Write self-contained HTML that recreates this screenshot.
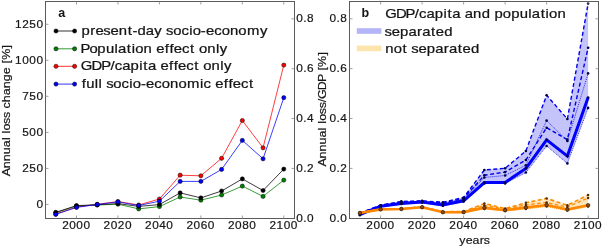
<!DOCTYPE html><html><head><meta charset="utf-8"><style>html,body{margin:0;padding:0;background:#fff;overflow:hidden}svg{display:block;will-change:transform}text{font-family:"Liberation Sans",sans-serif}</style></head><body>
<svg width="602" height="247" viewBox="0 0 602 247">
<rect width="602" height="247" fill="#fff"/>
<polyline points="55.77,212.80 76.50,206.00 97.22,205.00 117.95,204.20 138.69,208.90 159.41,206.60 180.15,197.00 200.88,200.20 221.60,195.00 242.34,186.10 263.06,196.40 283.79,180.10" fill="none" stroke="#008000" stroke-width="0.9" stroke-opacity="0.85"/>
<circle cx="55.77" cy="212.80" r="2.1" fill="#008000" stroke="#000" stroke-width="0.5"/>
<circle cx="76.50" cy="206.00" r="2.1" fill="#008000" stroke="#000" stroke-width="0.5"/>
<circle cx="97.22" cy="205.00" r="2.1" fill="#008000" stroke="#000" stroke-width="0.5"/>
<circle cx="117.95" cy="204.20" r="2.1" fill="#008000" stroke="#000" stroke-width="0.5"/>
<circle cx="138.69" cy="208.90" r="2.1" fill="#008000" stroke="#000" stroke-width="0.5"/>
<circle cx="159.41" cy="206.60" r="2.1" fill="#008000" stroke="#000" stroke-width="0.5"/>
<circle cx="180.15" cy="197.00" r="2.1" fill="#008000" stroke="#000" stroke-width="0.5"/>
<circle cx="200.88" cy="200.20" r="2.1" fill="#008000" stroke="#000" stroke-width="0.5"/>
<circle cx="221.60" cy="195.00" r="2.1" fill="#008000" stroke="#000" stroke-width="0.5"/>
<circle cx="242.34" cy="186.10" r="2.1" fill="#008000" stroke="#000" stroke-width="0.5"/>
<circle cx="263.06" cy="196.40" r="2.1" fill="#008000" stroke="#000" stroke-width="0.5"/>
<circle cx="283.79" cy="180.10" r="2.1" fill="#008000" stroke="#000" stroke-width="0.5"/>
<polyline points="55.77,214.00 76.50,207.00 97.22,204.30 117.95,201.50 138.69,205.00 159.41,199.00 180.15,175.20 200.88,175.80 221.60,158.30 242.34,120.50 263.06,147.80 283.79,65.10" fill="none" stroke="#ff0000" stroke-width="0.9" stroke-opacity="0.85"/>
<circle cx="55.77" cy="214.00" r="2.1" fill="#ff0000" stroke="#000" stroke-width="0.5"/>
<circle cx="76.50" cy="207.00" r="2.1" fill="#ff0000" stroke="#000" stroke-width="0.5"/>
<circle cx="97.22" cy="204.30" r="2.1" fill="#ff0000" stroke="#000" stroke-width="0.5"/>
<circle cx="117.95" cy="201.50" r="2.1" fill="#ff0000" stroke="#000" stroke-width="0.5"/>
<circle cx="138.69" cy="205.00" r="2.1" fill="#ff0000" stroke="#000" stroke-width="0.5"/>
<circle cx="159.41" cy="199.00" r="2.1" fill="#ff0000" stroke="#000" stroke-width="0.5"/>
<circle cx="180.15" cy="175.20" r="2.1" fill="#ff0000" stroke="#000" stroke-width="0.5"/>
<circle cx="200.88" cy="175.80" r="2.1" fill="#ff0000" stroke="#000" stroke-width="0.5"/>
<circle cx="221.60" cy="158.30" r="2.1" fill="#ff0000" stroke="#000" stroke-width="0.5"/>
<circle cx="242.34" cy="120.50" r="2.1" fill="#ff0000" stroke="#000" stroke-width="0.5"/>
<circle cx="263.06" cy="147.80" r="2.1" fill="#ff0000" stroke="#000" stroke-width="0.5"/>
<circle cx="283.79" cy="65.10" r="2.1" fill="#ff0000" stroke="#000" stroke-width="0.5"/>
<polyline points="55.77,212.30 76.50,205.60 97.22,204.80 117.95,203.60 138.69,206.40 159.41,204.60 180.15,192.90 200.88,197.90 221.60,191.00 242.34,178.90 263.06,190.50 283.79,169.10" fill="none" stroke="#000000" stroke-width="0.9" stroke-opacity="0.85"/>
<circle cx="55.77" cy="212.30" r="2.1" fill="#000000" stroke="#000" stroke-width="0.5"/>
<circle cx="76.50" cy="205.60" r="2.1" fill="#000000" stroke="#000" stroke-width="0.5"/>
<circle cx="97.22" cy="204.80" r="2.1" fill="#000000" stroke="#000" stroke-width="0.5"/>
<circle cx="117.95" cy="203.60" r="2.1" fill="#000000" stroke="#000" stroke-width="0.5"/>
<circle cx="138.69" cy="206.40" r="2.1" fill="#000000" stroke="#000" stroke-width="0.5"/>
<circle cx="159.41" cy="204.60" r="2.1" fill="#000000" stroke="#000" stroke-width="0.5"/>
<circle cx="180.15" cy="192.90" r="2.1" fill="#000000" stroke="#000" stroke-width="0.5"/>
<circle cx="200.88" cy="197.90" r="2.1" fill="#000000" stroke="#000" stroke-width="0.5"/>
<circle cx="221.60" cy="191.00" r="2.1" fill="#000000" stroke="#000" stroke-width="0.5"/>
<circle cx="242.34" cy="178.90" r="2.1" fill="#000000" stroke="#000" stroke-width="0.5"/>
<circle cx="263.06" cy="190.50" r="2.1" fill="#000000" stroke="#000" stroke-width="0.5"/>
<circle cx="283.79" cy="169.10" r="2.1" fill="#000000" stroke="#000" stroke-width="0.5"/>
<polyline points="55.77,214.40 76.50,207.40 97.22,204.50 117.95,201.90 138.69,205.50 159.41,201.20 180.15,181.40 200.88,181.40 221.60,169.40 242.34,140.40 263.06,158.80 283.79,97.70" fill="none" stroke="#0000ff" stroke-width="0.9" stroke-opacity="0.85"/>
<circle cx="55.77" cy="214.40" r="2.1" fill="#0000ff" stroke="#000" stroke-width="0.5"/>
<circle cx="76.50" cy="207.40" r="2.1" fill="#0000ff" stroke="#000" stroke-width="0.5"/>
<circle cx="97.22" cy="204.50" r="2.1" fill="#0000ff" stroke="#000" stroke-width="0.5"/>
<circle cx="117.95" cy="201.90" r="2.1" fill="#0000ff" stroke="#000" stroke-width="0.5"/>
<circle cx="138.69" cy="205.50" r="2.1" fill="#0000ff" stroke="#000" stroke-width="0.5"/>
<circle cx="159.41" cy="201.20" r="2.1" fill="#0000ff" stroke="#000" stroke-width="0.5"/>
<circle cx="180.15" cy="181.40" r="2.1" fill="#0000ff" stroke="#000" stroke-width="0.5"/>
<circle cx="200.88" cy="181.40" r="2.1" fill="#0000ff" stroke="#000" stroke-width="0.5"/>
<circle cx="221.60" cy="169.40" r="2.1" fill="#0000ff" stroke="#000" stroke-width="0.5"/>
<circle cx="242.34" cy="140.40" r="2.1" fill="#0000ff" stroke="#000" stroke-width="0.5"/>
<circle cx="263.06" cy="158.80" r="2.1" fill="#0000ff" stroke="#000" stroke-width="0.5"/>
<circle cx="283.79" cy="97.70" r="2.1" fill="#0000ff" stroke="#000" stroke-width="0.5"/>
<polygon points="359.88,213.00 380.62,205.20 401.38,201.40 422.12,200.90 442.88,202.20 463.62,197.50 484.38,170.00 505.12,168.30 525.88,151.00 546.62,95.20 567.38,119.00 588.12,3.60 588.12,107.90 567.38,163.40 546.62,146.00 525.88,172.50 505.12,183.50 484.38,183.50 463.62,201.60 442.88,205.80 422.12,202.60 401.38,204.00 380.62,206.80 359.88,215.20" fill="#c4c4fa" stroke="none"/>
<polygon points="359.88,212.60 380.62,209.00 401.38,208.60 422.12,206.80 442.88,211.70 463.62,211.60 484.38,203.50 505.12,208.50 525.88,202.80 546.62,198.40 567.38,205.20 588.12,195.00 588.12,206.60 567.38,210.60 546.62,206.50 525.88,209.00 505.12,211.00 484.38,209.00 463.62,212.50 442.88,212.60 422.12,207.50 401.38,209.30 380.62,209.70 359.88,213.30" fill="#ffe6bd" stroke="none"/>
<polyline points="359.88,213.00 380.62,205.20 401.38,201.40 422.12,200.90 442.88,202.20 463.62,197.50 484.38,170.00 505.12,168.30 525.88,151.00 546.62,95.20 567.38,119.00 588.12,3.60" fill="none" stroke="#0000ee" stroke-width="1.4" stroke-dasharray="4 2.5"/>
<polyline points="359.88,213.30 380.62,205.50 401.38,202.00 422.12,201.20 442.88,203.00 463.62,198.50 484.38,175.20 505.12,172.10 525.88,160.00 546.62,127.70 567.38,139.60 588.12,47.70" fill="none" stroke="#0000ee" stroke-width="1.4" stroke-dasharray="4 2.5"/>
<polyline points="359.88,213.60 380.62,205.70 401.38,202.40 422.12,201.50 442.88,203.50 463.62,199.00 484.38,177.50 505.12,175.50 525.88,165.20 546.62,120.60 567.38,141.00 588.12,73.40" fill="none" stroke="#0000ee" stroke-width="0.8" stroke-dasharray="1 1"/>
<polyline points="359.88,215.20 380.62,206.80 401.38,204.00 422.12,202.60 442.88,205.80 463.62,201.60 484.38,183.50 505.12,183.50 525.88,172.50 546.62,146.00 567.38,163.40 588.12,107.90" fill="none" stroke="#0000ee" stroke-width="0.8" stroke-dasharray="1 1"/>
<polyline points="359.88,214.60 380.62,206.20 401.38,203.40 422.12,202.00 442.88,205.00 463.62,200.80 484.38,182.50 505.12,182.50 525.88,168.40 546.62,139.80 567.38,156.10 588.12,97.60" fill="none" stroke="#0000ff" stroke-width="3"/>
<circle cx="359.88" cy="213.00" r="1.3" fill="#00004a"/>
<circle cx="380.62" cy="205.20" r="1.3" fill="#00004a"/>
<circle cx="401.38" cy="201.40" r="1.3" fill="#00004a"/>
<circle cx="422.12" cy="200.90" r="1.3" fill="#00004a"/>
<circle cx="442.88" cy="202.20" r="1.3" fill="#00004a"/>
<circle cx="463.62" cy="197.50" r="1.3" fill="#00004a"/>
<circle cx="484.38" cy="170.00" r="1.3" fill="#00004a"/>
<circle cx="505.12" cy="168.30" r="1.3" fill="#00004a"/>
<circle cx="525.88" cy="151.00" r="1.3" fill="#00004a"/>
<circle cx="546.62" cy="95.20" r="1.3" fill="#00004a"/>
<circle cx="567.38" cy="119.00" r="1.3" fill="#00004a"/>
<circle cx="588.12" cy="3.60" r="1.3" fill="#00004a"/>
<circle cx="359.88" cy="213.60" r="1.3" fill="#00004a"/>
<circle cx="380.62" cy="205.70" r="1.3" fill="#00004a"/>
<circle cx="401.38" cy="202.40" r="1.3" fill="#00004a"/>
<circle cx="422.12" cy="201.50" r="1.3" fill="#00004a"/>
<circle cx="442.88" cy="203.50" r="1.3" fill="#00004a"/>
<circle cx="463.62" cy="199.00" r="1.3" fill="#00004a"/>
<circle cx="484.38" cy="177.50" r="1.3" fill="#00004a"/>
<circle cx="505.12" cy="175.50" r="1.3" fill="#00004a"/>
<circle cx="525.88" cy="165.20" r="1.3" fill="#00004a"/>
<circle cx="546.62" cy="120.60" r="1.3" fill="#00004a"/>
<circle cx="567.38" cy="141.00" r="1.3" fill="#00004a"/>
<circle cx="588.12" cy="73.40" r="1.3" fill="#00004a"/>
<circle cx="359.88" cy="213.30" r="1.3" fill="#00004a"/>
<circle cx="380.62" cy="205.50" r="1.3" fill="#00004a"/>
<circle cx="401.38" cy="202.00" r="1.3" fill="#00004a"/>
<circle cx="422.12" cy="201.20" r="1.3" fill="#00004a"/>
<circle cx="442.88" cy="203.00" r="1.3" fill="#00004a"/>
<circle cx="463.62" cy="198.50" r="1.3" fill="#00004a"/>
<circle cx="484.38" cy="175.20" r="1.3" fill="#00004a"/>
<circle cx="505.12" cy="172.10" r="1.3" fill="#00004a"/>
<circle cx="525.88" cy="160.00" r="1.3" fill="#00004a"/>
<circle cx="546.62" cy="127.70" r="1.3" fill="#00004a"/>
<circle cx="567.38" cy="139.60" r="1.3" fill="#00004a"/>
<circle cx="588.12" cy="47.70" r="1.3" fill="#00004a"/>
<circle cx="359.88" cy="214.60" r="1.3" fill="#00004a"/>
<circle cx="380.62" cy="206.20" r="1.3" fill="#00004a"/>
<circle cx="401.38" cy="203.40" r="1.3" fill="#00004a"/>
<circle cx="422.12" cy="202.00" r="1.3" fill="#00004a"/>
<circle cx="442.88" cy="205.00" r="1.3" fill="#00004a"/>
<circle cx="463.62" cy="200.80" r="1.3" fill="#00004a"/>
<circle cx="484.38" cy="182.50" r="1.3" fill="#00004a"/>
<circle cx="505.12" cy="182.50" r="1.3" fill="#00004a"/>
<circle cx="525.88" cy="168.40" r="1.3" fill="#00004a"/>
<circle cx="546.62" cy="139.80" r="1.3" fill="#00004a"/>
<circle cx="567.38" cy="156.10" r="1.3" fill="#00004a"/>
<circle cx="588.12" cy="97.60" r="1.3" fill="#00004a"/>
<circle cx="359.88" cy="215.20" r="1.3" fill="#00004a"/>
<circle cx="380.62" cy="206.80" r="1.3" fill="#00004a"/>
<circle cx="401.38" cy="204.00" r="1.3" fill="#00004a"/>
<circle cx="422.12" cy="202.60" r="1.3" fill="#00004a"/>
<circle cx="442.88" cy="205.80" r="1.3" fill="#00004a"/>
<circle cx="463.62" cy="201.60" r="1.3" fill="#00004a"/>
<circle cx="484.38" cy="183.50" r="1.3" fill="#00004a"/>
<circle cx="505.12" cy="183.50" r="1.3" fill="#00004a"/>
<circle cx="525.88" cy="172.50" r="1.3" fill="#00004a"/>
<circle cx="546.62" cy="146.00" r="1.3" fill="#00004a"/>
<circle cx="567.38" cy="163.40" r="1.3" fill="#00004a"/>
<circle cx="588.12" cy="107.90" r="1.3" fill="#00004a"/>
<polyline points="359.88,212.60 380.62,209.00 401.38,208.60 422.12,206.80 442.88,211.70 463.62,211.60 484.38,203.50 505.12,208.50 525.88,202.80 546.62,198.40 567.38,205.20 588.12,195.00" fill="none" stroke="#ff8c00" stroke-width="1.6" stroke-dasharray="4 2.5"/>
<polyline points="359.88,212.80 380.62,209.20 401.38,208.80 422.12,207.00 442.88,211.90 463.62,211.80 484.38,205.50 505.12,209.20 525.88,205.00 546.62,202.50 567.38,207.00 588.12,198.00" fill="none" stroke="#ff8c00" stroke-width="1.3" stroke-dasharray="3.5 2.5"/>
<polyline points="359.88,213.30 380.62,209.70 401.38,209.30 422.12,207.50 442.88,212.60 463.62,212.50 484.38,209.00 505.12,211.00 525.88,209.00 546.62,206.50 567.38,210.60 588.12,206.60" fill="none" stroke="#ff8c00" stroke-width="1" stroke-dasharray="1 1"/>
<polyline points="359.88,213.00 380.62,209.40 401.38,209.00 422.12,207.20 442.88,212.20 463.62,212.10 484.38,207.70 505.12,210.20 525.88,207.50 546.62,205.00 567.38,209.50 588.12,205.20" fill="none" stroke="#ff8800" stroke-width="2.6"/>
<circle cx="359.88" cy="212.60" r="1.2" fill="#4a2800"/>
<circle cx="380.62" cy="209.00" r="1.2" fill="#4a2800"/>
<circle cx="401.38" cy="208.60" r="1.2" fill="#4a2800"/>
<circle cx="422.12" cy="206.80" r="1.2" fill="#4a2800"/>
<circle cx="442.88" cy="211.70" r="1.2" fill="#4a2800"/>
<circle cx="463.62" cy="211.60" r="1.2" fill="#4a2800"/>
<circle cx="484.38" cy="203.50" r="1.2" fill="#4a2800"/>
<circle cx="505.12" cy="208.50" r="1.2" fill="#4a2800"/>
<circle cx="525.88" cy="202.80" r="1.2" fill="#4a2800"/>
<circle cx="546.62" cy="198.40" r="1.2" fill="#4a2800"/>
<circle cx="567.38" cy="205.20" r="1.2" fill="#4a2800"/>
<circle cx="588.12" cy="195.00" r="1.2" fill="#4a2800"/>
<circle cx="359.88" cy="212.80" r="1.2" fill="#4a2800"/>
<circle cx="380.62" cy="209.20" r="1.2" fill="#4a2800"/>
<circle cx="401.38" cy="208.80" r="1.2" fill="#4a2800"/>
<circle cx="422.12" cy="207.00" r="1.2" fill="#4a2800"/>
<circle cx="442.88" cy="211.90" r="1.2" fill="#4a2800"/>
<circle cx="463.62" cy="211.80" r="1.2" fill="#4a2800"/>
<circle cx="484.38" cy="205.50" r="1.2" fill="#4a2800"/>
<circle cx="505.12" cy="209.20" r="1.2" fill="#4a2800"/>
<circle cx="525.88" cy="205.00" r="1.2" fill="#4a2800"/>
<circle cx="546.62" cy="202.50" r="1.2" fill="#4a2800"/>
<circle cx="567.38" cy="207.00" r="1.2" fill="#4a2800"/>
<circle cx="588.12" cy="198.00" r="1.2" fill="#4a2800"/>
<circle cx="359.88" cy="213.30" r="1.2" fill="#4a2800"/>
<circle cx="380.62" cy="209.70" r="1.2" fill="#4a2800"/>
<circle cx="401.38" cy="209.30" r="1.2" fill="#4a2800"/>
<circle cx="422.12" cy="207.50" r="1.2" fill="#4a2800"/>
<circle cx="442.88" cy="212.60" r="1.2" fill="#4a2800"/>
<circle cx="463.62" cy="212.50" r="1.2" fill="#4a2800"/>
<circle cx="484.38" cy="209.00" r="1.2" fill="#4a2800"/>
<circle cx="505.12" cy="211.00" r="1.2" fill="#4a2800"/>
<circle cx="525.88" cy="209.00" r="1.2" fill="#4a2800"/>
<circle cx="546.62" cy="206.50" r="1.2" fill="#4a2800"/>
<circle cx="567.38" cy="210.60" r="1.2" fill="#4a2800"/>
<circle cx="588.12" cy="206.60" r="1.2" fill="#4a2800"/>
<circle cx="359.88" cy="213.00" r="1.8" fill="#8a4a10" stroke="#2a1800" stroke-width="0.6"/>
<circle cx="380.62" cy="209.40" r="1.8" fill="#8a4a10" stroke="#2a1800" stroke-width="0.6"/>
<circle cx="401.38" cy="209.00" r="1.8" fill="#8a4a10" stroke="#2a1800" stroke-width="0.6"/>
<circle cx="422.12" cy="207.20" r="1.8" fill="#8a4a10" stroke="#2a1800" stroke-width="0.6"/>
<circle cx="442.88" cy="212.20" r="1.8" fill="#8a4a10" stroke="#2a1800" stroke-width="0.6"/>
<circle cx="463.62" cy="212.10" r="1.8" fill="#8a4a10" stroke="#2a1800" stroke-width="0.6"/>
<circle cx="484.38" cy="207.70" r="1.8" fill="#8a4a10" stroke="#2a1800" stroke-width="0.6"/>
<circle cx="505.12" cy="210.20" r="1.8" fill="#8a4a10" stroke="#2a1800" stroke-width="0.6"/>
<circle cx="525.88" cy="207.50" r="1.8" fill="#8a4a10" stroke="#2a1800" stroke-width="0.6"/>
<circle cx="546.62" cy="205.00" r="1.8" fill="#8a4a10" stroke="#2a1800" stroke-width="0.6"/>
<circle cx="567.38" cy="209.50" r="1.8" fill="#8a4a10" stroke="#2a1800" stroke-width="0.6"/>
<circle cx="588.12" cy="205.20" r="1.8" fill="#8a4a10" stroke="#2a1800" stroke-width="0.6"/>
<rect x="45.5" y="1.5" width="249.0" height="217.0" fill="none" stroke="#5a5a5a" stroke-width="1"/>
<rect x="349.5" y="1.5" width="249.0" height="217.0" fill="none" stroke="#5a5a5a" stroke-width="1"/>
<line x1="76.5" y1="218.5" x2="76.5" y2="215.5" stroke="#888" stroke-width="0.8"/>
<line x1="76.5" y1="1.5" x2="76.5" y2="4.5" stroke="#888" stroke-width="0.8"/>
<text transform="translate(76.09,229.40) scale(1.0300,1)" x="-13.55 -6.65 0.25 7.15" y="0" font-size="11.5" fill="#151515" stroke="#151515" stroke-width="0.2" style="white-space:pre">2000</text>
<line x1="117.95" y1="218.5" x2="117.95" y2="215.5" stroke="#888" stroke-width="0.8"/>
<line x1="117.95" y1="1.5" x2="117.95" y2="4.5" stroke="#888" stroke-width="0.8"/>
<text transform="translate(117.55,229.40) scale(1.0300,1)" x="-13.55 -6.65 0.25 7.15" y="0" font-size="11.5" fill="#151515" stroke="#151515" stroke-width="0.2" style="white-space:pre">2020</text>
<line x1="159.41" y1="218.5" x2="159.41" y2="215.5" stroke="#888" stroke-width="0.8"/>
<line x1="159.41" y1="1.5" x2="159.41" y2="4.5" stroke="#888" stroke-width="0.8"/>
<text transform="translate(159.01,229.40) scale(1.0300,1)" x="-13.55 -6.65 0.25 7.15" y="0" font-size="11.5" fill="#151515" stroke="#151515" stroke-width="0.2" style="white-space:pre">2040</text>
<line x1="200.88" y1="218.5" x2="200.88" y2="215.5" stroke="#888" stroke-width="0.8"/>
<line x1="200.88" y1="1.5" x2="200.88" y2="4.5" stroke="#888" stroke-width="0.8"/>
<text transform="translate(200.47,229.40) scale(1.0300,1)" x="-13.55 -6.65 0.25 7.15" y="0" font-size="11.5" fill="#151515" stroke="#151515" stroke-width="0.2" style="white-space:pre">2060</text>
<line x1="242.34" y1="218.5" x2="242.34" y2="215.5" stroke="#888" stroke-width="0.8"/>
<line x1="242.34" y1="1.5" x2="242.34" y2="4.5" stroke="#888" stroke-width="0.8"/>
<text transform="translate(241.94,229.40) scale(1.0300,1)" x="-13.55 -6.65 0.25 7.15" y="0" font-size="11.5" fill="#151515" stroke="#151515" stroke-width="0.2" style="white-space:pre">2080</text>
<line x1="283.79" y1="218.5" x2="283.79" y2="215.5" stroke="#888" stroke-width="0.8"/>
<line x1="283.79" y1="1.5" x2="283.79" y2="4.5" stroke="#888" stroke-width="0.8"/>
<text transform="translate(283.39,229.40) scale(1.0300,1)" x="-13.55 -6.65 0.25 7.15" y="0" font-size="11.5" fill="#151515" stroke="#151515" stroke-width="0.2" style="white-space:pre">2100</text>
<line x1="380.62" y1="218.5" x2="380.62" y2="215.5" stroke="#888" stroke-width="0.8"/>
<line x1="380.62" y1="1.5" x2="380.62" y2="4.5" stroke="#888" stroke-width="0.8"/>
<text transform="translate(380.23,229.40) scale(1.0300,1)" x="-13.55 -6.65 0.25 7.15" y="0" font-size="11.5" fill="#151515" stroke="#151515" stroke-width="0.2" style="white-space:pre">2000</text>
<line x1="422.12" y1="218.5" x2="422.12" y2="215.5" stroke="#888" stroke-width="0.8"/>
<line x1="422.12" y1="1.5" x2="422.12" y2="4.5" stroke="#888" stroke-width="0.8"/>
<text transform="translate(421.73,229.40) scale(1.0300,1)" x="-13.55 -6.65 0.25 7.15" y="0" font-size="11.5" fill="#151515" stroke="#151515" stroke-width="0.2" style="white-space:pre">2020</text>
<line x1="463.62" y1="218.5" x2="463.62" y2="215.5" stroke="#888" stroke-width="0.8"/>
<line x1="463.62" y1="1.5" x2="463.62" y2="4.5" stroke="#888" stroke-width="0.8"/>
<text transform="translate(463.23,229.40) scale(1.0300,1)" x="-13.55 -6.65 0.25 7.15" y="0" font-size="11.5" fill="#151515" stroke="#151515" stroke-width="0.2" style="white-space:pre">2040</text>
<line x1="505.12" y1="218.5" x2="505.12" y2="215.5" stroke="#888" stroke-width="0.8"/>
<line x1="505.12" y1="1.5" x2="505.12" y2="4.5" stroke="#888" stroke-width="0.8"/>
<text transform="translate(504.73,229.40) scale(1.0300,1)" x="-13.55 -6.65 0.25 7.15" y="0" font-size="11.5" fill="#151515" stroke="#151515" stroke-width="0.2" style="white-space:pre">2060</text>
<line x1="546.62" y1="218.5" x2="546.62" y2="215.5" stroke="#888" stroke-width="0.8"/>
<line x1="546.62" y1="1.5" x2="546.62" y2="4.5" stroke="#888" stroke-width="0.8"/>
<text transform="translate(546.23,229.40) scale(1.0300,1)" x="-13.55 -6.65 0.25 7.15" y="0" font-size="11.5" fill="#151515" stroke="#151515" stroke-width="0.2" style="white-space:pre">2080</text>
<line x1="588.12" y1="218.5" x2="588.12" y2="215.5" stroke="#888" stroke-width="0.8"/>
<line x1="588.12" y1="1.5" x2="588.12" y2="4.5" stroke="#888" stroke-width="0.8"/>
<text transform="translate(587.73,229.40) scale(1.0300,1)" x="-13.55 -6.65 0.25 7.15" y="0" font-size="11.5" fill="#151515" stroke="#151515" stroke-width="0.2" style="white-space:pre">2100</text>
<line x1="45.5" y1="204.4" x2="48.5" y2="204.4" stroke="#888" stroke-width="0.8"/>
<text transform="translate(43.25,207.60) scale(1.0300,1)" x="-6.65" y="0" font-size="11.5" fill="#151515" stroke="#151515" stroke-width="0.2" style="white-space:pre">0</text>
<line x1="45.5" y1="168.4" x2="48.5" y2="168.4" stroke="#888" stroke-width="0.8"/>
<text transform="translate(43.25,171.58) scale(1.0300,1)" x="-20.45 -13.55 -6.65" y="0" font-size="11.5" fill="#151515" stroke="#151515" stroke-width="0.2" style="white-space:pre">250</text>
<line x1="45.5" y1="132.4" x2="48.5" y2="132.4" stroke="#888" stroke-width="0.8"/>
<text transform="translate(43.25,135.56) scale(1.0300,1)" x="-20.45 -13.55 -6.65" y="0" font-size="11.5" fill="#151515" stroke="#151515" stroke-width="0.2" style="white-space:pre">500</text>
<line x1="45.5" y1="96.3" x2="48.5" y2="96.3" stroke="#888" stroke-width="0.8"/>
<text transform="translate(43.25,99.54) scale(1.0300,1)" x="-20.45 -13.55 -6.65" y="0" font-size="11.5" fill="#151515" stroke="#151515" stroke-width="0.2" style="white-space:pre">750</text>
<line x1="45.5" y1="60.3" x2="48.5" y2="60.3" stroke="#888" stroke-width="0.8"/>
<text transform="translate(43.25,63.52) scale(1.0300,1)" x="-27.35 -20.45 -13.55 -6.65" y="0" font-size="11.5" fill="#151515" stroke="#151515" stroke-width="0.2" style="white-space:pre">1000</text>
<line x1="45.5" y1="24.3" x2="48.5" y2="24.3" stroke="#888" stroke-width="0.8"/>
<text transform="translate(43.25,27.50) scale(1.0300,1)" x="-27.35 -20.45 -13.55 -6.65" y="0" font-size="11.5" fill="#151515" stroke="#151515" stroke-width="0.2" style="white-space:pre">1250</text>
<text transform="translate(296.00,221.50) scale(1.0300,1)" x="0.25 7.03 10.60" y="0" font-size="11.5" fill="#151515" stroke="#151515" stroke-width="0.2" style="white-space:pre">0.0</text>
<text transform="translate(347.00,221.50) scale(1.0300,1)" x="-16.99 -10.22 -6.65" y="0" font-size="11.5" fill="#151515" stroke="#151515" stroke-width="0.2" style="white-space:pre">0.0</text>
<line x1="294.5" y1="168.4" x2="291.5" y2="168.4" stroke="#888" stroke-width="0.8"/>
<line x1="349.5" y1="168.4" x2="352.5" y2="168.4" stroke="#888" stroke-width="0.8"/>
<line x1="598.5" y1="168.4" x2="595.5" y2="168.4" stroke="#888" stroke-width="0.8"/>
<text transform="translate(296.00,171.62) scale(1.0300,1)" x="0.25 7.03 10.60" y="0" font-size="11.5" fill="#151515" stroke="#151515" stroke-width="0.2" style="white-space:pre">0.2</text>
<text transform="translate(347.00,171.62) scale(1.0300,1)" x="-16.99 -10.22 -6.65" y="0" font-size="11.5" fill="#151515" stroke="#151515" stroke-width="0.2" style="white-space:pre">0.2</text>
<line x1="294.5" y1="118.5" x2="291.5" y2="118.5" stroke="#888" stroke-width="0.8"/>
<line x1="349.5" y1="118.5" x2="352.5" y2="118.5" stroke="#888" stroke-width="0.8"/>
<line x1="598.5" y1="118.5" x2="595.5" y2="118.5" stroke="#888" stroke-width="0.8"/>
<text transform="translate(296.00,121.74) scale(1.0300,1)" x="0.25 7.03 10.60" y="0" font-size="11.5" fill="#151515" stroke="#151515" stroke-width="0.2" style="white-space:pre">0.4</text>
<text transform="translate(347.00,121.74) scale(1.0300,1)" x="-16.99 -10.22 -6.65" y="0" font-size="11.5" fill="#151515" stroke="#151515" stroke-width="0.2" style="white-space:pre">0.4</text>
<line x1="294.5" y1="68.7" x2="291.5" y2="68.7" stroke="#888" stroke-width="0.8"/>
<line x1="349.5" y1="68.7" x2="352.5" y2="68.7" stroke="#888" stroke-width="0.8"/>
<line x1="598.5" y1="68.7" x2="595.5" y2="68.7" stroke="#888" stroke-width="0.8"/>
<text transform="translate(296.00,71.86) scale(1.0300,1)" x="0.25 7.03 10.60" y="0" font-size="11.5" fill="#151515" stroke="#151515" stroke-width="0.2" style="white-space:pre">0.6</text>
<text transform="translate(347.00,71.86) scale(1.0300,1)" x="-16.99 -10.22 -6.65" y="0" font-size="11.5" fill="#151515" stroke="#151515" stroke-width="0.2" style="white-space:pre">0.6</text>
<line x1="294.5" y1="18.8" x2="291.5" y2="18.8" stroke="#888" stroke-width="0.8"/>
<line x1="349.5" y1="18.8" x2="352.5" y2="18.8" stroke="#888" stroke-width="0.8"/>
<line x1="598.5" y1="18.8" x2="595.5" y2="18.8" stroke="#888" stroke-width="0.8"/>
<text transform="translate(296.00,21.98) scale(1.0300,1)" x="0.25 7.03 10.60" y="0" font-size="11.5" fill="#151515" stroke="#151515" stroke-width="0.2" style="white-space:pre">0.8</text>
<text transform="translate(347.00,21.98) scale(1.0300,1)" x="-16.99 -10.22 -6.65" y="0" font-size="11.5" fill="#151515" stroke="#151515" stroke-width="0.2" style="white-space:pre">0.8</text>
<text transform="translate(10.30,176.00) rotate(-90) scale(1.0800,1)" x="-0.30 7.15 13.71 20.26 26.71 33.24 36.00 39.40 42.08 48.26 53.65 59.26 62.47 68.27 74.71 81.16 87.72 94.19 100.61 104.27 107.69 118.14" y="0" font-size="11.5" fill="#151515" stroke="#151515" stroke-width="0.2" style="white-space:pre">Annual loss change [%]</text>
<text transform="translate(325.60,166.30) rotate(-90) scale(1.0800,1)" x="-0.30 7.15 13.71 20.26 26.71 33.24 36.00 39.40 42.08 48.26 53.65 59.36 62.23 70.54 77.96 84.96 88.62 92.04 102.48" y="0" font-size="11.5" fill="#151515" stroke="#151515" stroke-width="0.2" style="white-space:pre">Annual loss/GDP [%]</text>
<text transform="translate(459.10,243.60) scale(1.0800,1)" x="0.19 6.11 12.46 19.03 22.89" y="0" font-size="11.5" fill="#151515" stroke="#151515" stroke-width="0.2" style="white-space:pre">years</text>
<text x="58.3" y="16.9" font-size="12.5" font-weight="bold" fill="#151515">a</text>
<line x1="56" y1="31.0" x2="74.6" y2="31.0" stroke="#000000" stroke-width="0.8"/>
<circle cx="56" cy="31.0" r="2.1" fill="#000000" stroke="#000" stroke-width="0.5"/>
<circle cx="74.6" cy="31.0" r="2.1" fill="#000000" stroke="#000" stroke-width="0.5"/>
<text transform="translate(81.40,35.10) scale(1.1100,1)" x="0.12 7.94 12.66 19.65 26.15 33.72 41.79 45.98 50.51 58.07 65.73 72.73 76.32 82.80 90.21 97.08 100.23 107.62 112.25 119.68 126.34 133.88 141.42 149.17 160.88" y="0" font-size="13.4" fill="#151515" stroke="#151515" stroke-width="0.25" style="white-space:pre">present-day socio-economy</text>
<line x1="56" y1="48.8" x2="74.6" y2="48.8" stroke="#008000" stroke-width="0.8"/>
<circle cx="56" cy="48.8" r="2.1" fill="#008000" stroke="#000" stroke-width="0.5"/>
<circle cx="74.6" cy="48.8" r="2.1" fill="#008000" stroke="#000" stroke-width="0.5"/>
<text transform="translate(81.40,52.80) scale(1.1100,1)" x="-0.82 7.28 14.40 22.08 29.83 32.99 40.93 45.36 48.51 56.05 63.68 67.46 75.18 79.45 83.25 90.68 97.87 102.17 105.94 113.48 121.23 124.64" y="0" font-size="13.4" fill="#151515" stroke="#151515" stroke-width="0.25" style="white-space:pre">Population effect only</text>
<line x1="56" y1="66.3" x2="74.6" y2="66.3" stroke="#ff0000" stroke-width="0.8"/>
<circle cx="56" cy="66.3" r="2.1" fill="#ff0000" stroke="#000" stroke-width="0.5"/>
<circle cx="74.6" cy="66.3" r="2.1" fill="#ff0000" stroke="#000" stroke-width="0.5"/>
<text transform="translate(81.40,70.45) scale(1.1100,1)" x="-0.52 9.20 17.89 26.18 30.06 36.73 44.28 52.04 55.73 59.94 67.44 71.23 78.95 83.21 87.02 94.45 101.64 105.94 109.70 117.24 125.00 128.40" y="0" font-size="13.4" fill="#151515" stroke="#151515" stroke-width="0.25" style="white-space:pre">GDP/capita effect only</text>
<line x1="56" y1="84.1" x2="74.6" y2="84.1" stroke="#0000ff" stroke-width="0.8"/>
<circle cx="56" cy="84.1" r="2.1" fill="#0000ff" stroke="#000" stroke-width="0.5"/>
<circle cx="74.6" cy="84.1" r="2.1" fill="#0000ff" stroke="#000" stroke-width="0.5"/>
<text transform="translate(81.40,88.10) scale(1.1100,1)" x="0.27 4.37 12.13 15.49 18.73 22.32 28.80 36.21 43.08 46.23 53.61 58.25 65.68 72.34 79.88 87.42 95.17 106.84 109.99 116.73 120.51 128.23 132.50 136.30 143.73 150.93" y="0" font-size="13.4" fill="#151515" stroke="#151515" stroke-width="0.25" style="white-space:pre">full socio-economic effect</text>
<text x="361.6" y="17.1" font-size="12.5" font-weight="bold" fill="#151515">b</text>
<text transform="translate(385.70,18.00) scale(1.1100,1)" x="-0.52 9.20 17.89 26.18 30.06 36.73 44.28 52.04 55.73 59.94 67.44 71.21 78.76 86.44 94.07 97.97 105.52 113.07 120.75 128.51 131.66 139.61 144.04 147.18 154.73" y="0" font-size="13.4" fill="#151515" stroke="#151515" stroke-width="0.25" style="white-space:pre">GDP/capita and population</text>
<rect x="356.8" y="28.2" width="24.5" height="5.6" fill="#b4b4f8"/>
<rect x="356.8" y="45.6" width="24.5" height="5.6" fill="#fde4ad"/>
<text transform="translate(384.70,35.80) scale(1.1100,1)" x="-0.20 6.31 13.88 21.43 29.12 33.83 41.77 46.01 53.58" y="0" font-size="13.4" fill="#151515" stroke="#151515" stroke-width="0.25" style="white-space:pre">separated</text>
<text transform="translate(385.20,53.00) scale(1.1100,1)" x="0.11 7.65 15.59 19.89 23.48 29.98 37.55 45.11 52.80 57.50 65.45 69.69 77.25" y="0" font-size="13.4" fill="#151515" stroke="#151515" stroke-width="0.25" style="white-space:pre">not separated</text>
</svg></body></html>
